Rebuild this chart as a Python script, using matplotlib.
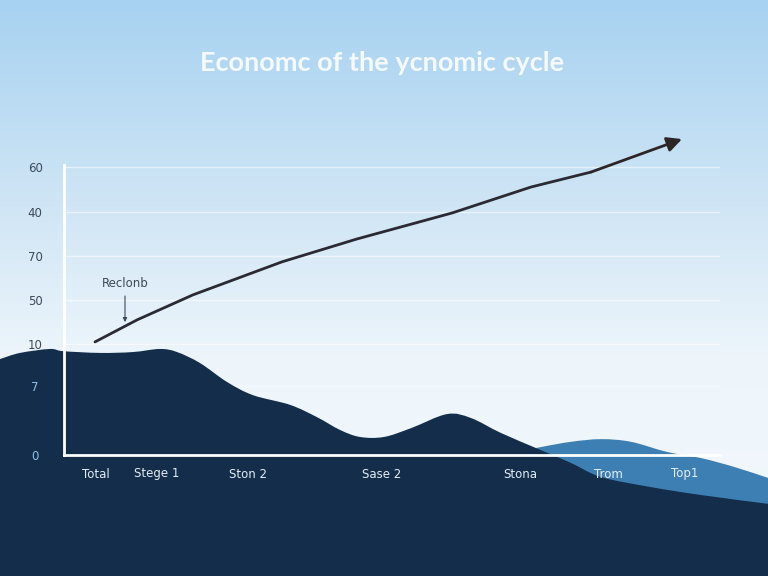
import numpy as np
import matplotlib
matplotlib.use("Agg")
import matplotlib.pyplot as plt
from matplotlib.colors import LinearSegmentedColormap
from matplotlib.path import Path
from matplotlib.patches import PathPatch

# ---- data ----
title = "Economc of the ycnomic cycle"
x_labels = ["Total", "Stege 1", "Ston 2", "Sase 2", "Stona", "Trom", "Top1"]
x_label_pos = [0.64, 1.86, 3.68, 6.36, 9.12, 10.88, 12.42]
y_labels = ["0", "7", "10", "50", "70", "40", "60"]
y_label_pos = [0.0, 1.57, 2.52, 3.52, 4.52, 5.52, 6.55]

trend_x = [0.62, 1.46, 2.58, 4.36, 5.86, 7.76, 9.34, 10.54, 12.36]
trend_y = [2.57, 3.07, 3.64, 4.39, 4.91, 5.50, 6.09, 6.43, 7.18]

annot_text = "Reclonb"
annot_x = 1.22
annot_y = 3.02

dark_wave_x = [-1.28, -0.88, -0.28, -0.02, 0.72, 1.38, 1.92, 2.26, 2.72, 3.26, 3.78,
               4.52, 5.06, 5.52, 5.92, 6.40, 6.94, 7.66, 8.14, 8.74, 9.54, 10.14,
               10.74, 11.74, 12.74, 14.08]
dark_wave_y = [2.18, 2.32, 2.41, 2.36, 2.32, 2.34, 2.41, 2.34, 2.09, 1.66, 1.36,
               1.14, 0.86, 0.57, 0.41, 0.41, 0.61, 0.93, 0.84, 0.50, 0.11, -0.18,
               -0.50, -0.73, -0.91, -1.11]
light_wave_x = [8.12, 9.14, 9.54, 10.14, 10.74, 11.34, 12.06, 12.74, 13.40, 14.08]
light_wave_y = [-0.35, 0.07, 0.18, 0.30, 0.36, 0.30, 0.07, -0.07, -0.27, -0.52]


def smooth_area_path(xs, ys, floor):
    """Closed area under a curve drawn with cubic Bezier segments through the points."""
    pts = np.column_stack([xs, ys]).astype(float)
    n = len(pts)
    verts = [pts[0]]
    codes = [Path.MOVETO]
    for i in range(n - 1):
        p0 = pts[i - 1] if i > 0 else pts[i]
        p1 = pts[i]
        p2 = pts[i + 1]
        p3 = pts[i + 2] if i + 2 < n else pts[i + 1]
        c1 = p1 + (p2 - p0) / 6.0
        c2 = p2 - (p3 - p1) / 6.0
        verts += [c1, c2, p2]
        codes += [Path.CURVE4] * 3
    verts += [(pts[-1][0], floor), (pts[0][0], floor), pts[0]]
    codes += [Path.LINETO, Path.LINETO, Path.CLOSEPOLY]
    return Path(verts, codes)


# ---- figure ----
W, H = 768, 576
fig = plt.figure(figsize=(W / 100, H / 100), dpi=100)

# background gradient
bg = fig.add_axes([0, 0, 1, 1], zorder=0)
bg.set_axis_off()
grad_cmap = LinearSegmentedColormap.from_list(
    "sky", [(0.0, "#a7d2f1"), (0.35, "#cfe5f5"), (0.62, "#edf5fb"), (1.0, "#f4f9fc")])
g = np.linspace(0, 1, 256).reshape(-1, 1)
bg.imshow(g, aspect="auto", cmap=grad_cmap, extent=[0, 1, 0, 1], origin="upper")
bg.set_xlim(0, 1)
bg.set_ylim(0, 1)

fig.text(0.498, 1 - 63 / H, title, ha="center", va="center", color="#f4f9fd",
         fontsize=19.5, fontfamily="Lato", fontweight="bold", zorder=5)

ax = fig.add_axes([64 / W, (H - 455) / H, 656 / W, 330 / H], zorder=1)
ax.patch.set_visible(False)
ax.set_xlim(0, 13.12)
ax.set_ylim(0, 7.5)

# grid lines
for yp in y_label_pos[1:]:
    ax.axhline(yp, color="white", lw=1.0, alpha=0.55, zorder=0.5)

# waves
navy = "#142d4b"
mid = "#3d7fb2"
ax.add_patch(PathPatch(smooth_area_path(light_wave_x, light_wave_y, -3.5),
                       facecolor=mid, lw=0, zorder=1, clip_on=False))
ax.add_patch(PathPatch(smooth_area_path(dark_wave_x, dark_wave_y, -3.5),
                       facecolor=navy, lw=0, zorder=1.2, clip_on=False))

# spines
for s in ["top", "right"]:
    ax.spines[s].set_visible(False)
for s in ["left", "bottom"]:
    ax.spines[s].set_color("white")
    ax.spines[s].set_linewidth(2)
    ax.spines[s].set_zorder(2)
ax.spines["left"].set_bounds(0, 6.6)

ax.set_xticks(x_label_pos)
ax.set_xticklabels(x_labels)
ax.set_yticks(y_label_pos)
ax.set_yticklabels(y_labels)
ax.tick_params(axis="both", length=0, labelsize=8.5)
ax.tick_params(axis="x", pad=9, colors="#e4edf4")
ax.tick_params(axis="y", pad=9)
for lbl, yp in zip(ax.get_yticklabels(), y_label_pos):
    lbl.set_color("#8cc3e8" if yp < 2 else "#3d4a58")
    lbl.set_horizontalalignment("center")
    lbl.set_x(-0.025)

# trend line with arrow
ax.plot(trend_x[:-1], trend_y[:-1], color="#2b2a33", lw=2, zorder=3,
        solid_capstyle="round", clip_on=False)
ax.annotate("", xy=(trend_x[-1], trend_y[-1]), xytext=(trend_x[-2], trend_y[-2]),
            arrowprops=dict(arrowstyle="-|>", color="#2e2527", lw=2,
                            mutation_scale=22, shrinkA=0, shrinkB=0),
            zorder=3, annotation_clip=False)

ax.annotate(annot_text, xy=(annot_x, annot_y), xytext=(annot_x, annot_y + 0.72),
            ha="center", va="bottom", fontsize=8.5, color="#3d4a58",
            arrowprops=dict(arrowstyle="-|>", color="#3d4a58", lw=0.8,
                            mutation_scale=6, shrinkA=2, shrinkB=0),
            zorder=3)

fig.savefig("out.png", dpi=100)
